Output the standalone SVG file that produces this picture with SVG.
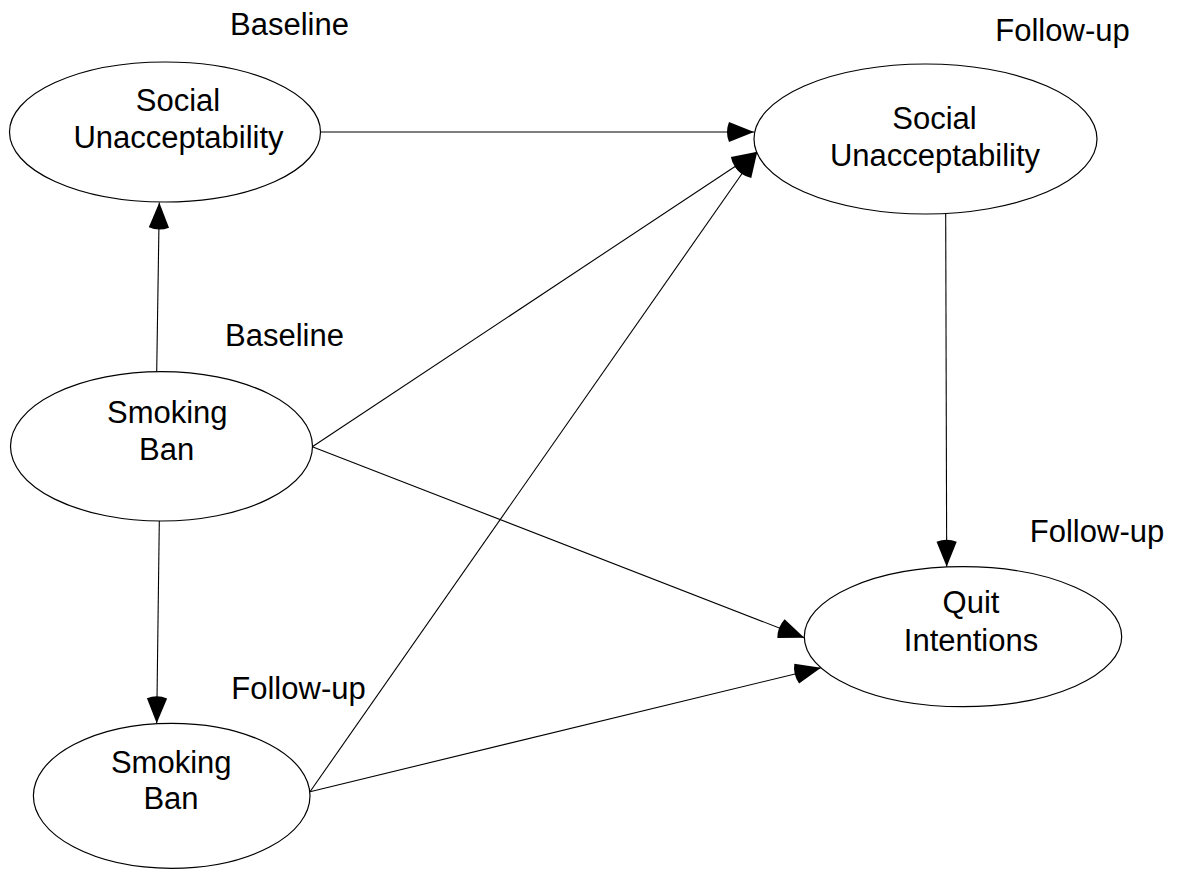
<svg xmlns="http://www.w3.org/2000/svg" width="1178" height="870" viewBox="0 0 1178 870">
<style>
.node ellipse{fill:#fff;stroke:#000;stroke-width:1.2}
text{font-family:"Liberation Sans",Arial,sans-serif;font-size:31px;fill:#000;text-anchor:middle}
.edge line{stroke:#000;stroke-width:1.1;marker-end:url(#arr)}
</style>
<defs>
<marker id="arr" markerUnits="userSpaceOnUse" orient="auto" refX="0" refY="0" markerWidth="60" markerHeight="60" viewBox="-30 -30 60 60" overflow="visible">
<path d="M0,0 L-25,-10.1 A27,27 0 0 0 -25,10.1 Z" fill="#000"/>
</marker>
</defs>
<rect width="1178" height="870" fill="#fff"/>
<g id="labels">
<text x="289.5" y="35">Baseline</text>
<text x="1062.5" y="40.5">Follow-up</text>
<text x="284.5" y="345.5">Baseline</text>
<text x="298.5" y="699">Follow-up</text>
<text x="1097" y="541.5">Follow-up</text>
</g>
<g id="edges" class="edge">
<line x1="320.5" y1="132" x2="754" y2="132"/>
<line x1="156.7" y1="372" x2="159.3" y2="202.5"/>
<line x1="312.3" y1="446.7" x2="757.3" y2="151.7"/>
<line x1="310" y1="791.7" x2="757.3" y2="151.7"/>
<line x1="945.7" y1="214" x2="946.7" y2="566.7"/>
<line x1="159.3" y1="521" x2="156.7" y2="723.3"/>
<line x1="312.3" y1="446.7" x2="804.3" y2="637.7"/>
<line x1="310" y1="791.7" x2="821" y2="667.7"/>
</g>
<g id="su_base" class="node">
<ellipse cx="165" cy="132" rx="155.5" ry="70"/>
<text x="178" y="110.5">Social</text>
<text x="178.5" y="147.7">Unacceptability</text>
</g>
<g id="su_follow" class="node">
<ellipse cx="925.5" cy="139" rx="171.5" ry="75"/>
<text x="934.5" y="129.3">Social</text>
<text x="935" y="165.7">Unacceptability</text>
</g>
<g id="sb_base" class="node">
<ellipse cx="161.5" cy="446.3" rx="151" ry="74.7"/>
<text x="167.3" y="423.3">Smoking</text>
<text x="166.7" y="460">Ban</text>
</g>
<g id="sb_follow" class="node">
<ellipse cx="171.7" cy="795.8" rx="138.3" ry="72.5"/>
<text x="171.2" y="773.3">Smoking</text>
<text x="171" y="809.3">Ban</text>
</g>
<g id="quit" class="node">
<ellipse cx="963" cy="636.7" rx="158.7" ry="70"/>
<text x="971" y="613.3">Quit</text>
<text x="971" y="650.7">Intentions</text>
</g>
</svg>
